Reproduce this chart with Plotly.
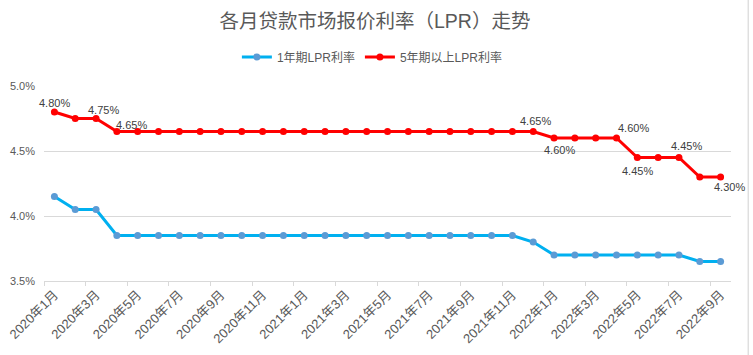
import plotly.graph_objects as go

months = [
    "2020年1月", "2020年2月", "2020年3月", "2020年4月", "2020年5月", "2020年6月",
    "2020年7月", "2020年8月", "2020年9月", "2020年10月", "2020年11月", "2020年12月",
    "2021年1月", "2021年2月", "2021年3月", "2021年4月", "2021年5月", "2021年6月",
    "2021年7月", "2021年8月", "2021年9月", "2021年10月", "2021年11月", "2021年12月",
    "2022年1月", "2022年2月", "2022年3月", "2022年4月", "2022年5月", "2022年6月",
    "2022年7月", "2022年8月", "2022年9月",
]
lpr_1y = [
    4.15, 4.05, 4.05, 3.85, 3.85, 3.85, 3.85, 3.85, 3.85, 3.85, 3.85, 3.85,
    3.85, 3.85, 3.85, 3.85, 3.85, 3.85, 3.85, 3.85, 3.85, 3.85, 3.85, 3.80,
    3.70, 3.70, 3.70, 3.70, 3.70, 3.70, 3.70, 3.65, 3.65,
]
lpr_5y = [
    4.80, 4.75, 4.75, 4.65, 4.65, 4.65, 4.65, 4.65, 4.65, 4.65, 4.65, 4.65,
    4.65, 4.65, 4.65, 4.65, 4.65, 4.65, 4.65, 4.65, 4.65, 4.65, 4.65, 4.65,
    4.60, 4.60, 4.60, 4.60, 4.45, 4.45, 4.45, 4.30, 4.30,
]
labelled_points = [0, 2, 3, 23, 24, 27, 28, 30, 32]
y_ticks = [3.5, 4.0, 4.5, 5.0]
y_tick_labels = ["3.5%", "4.0%", "4.5%", "5.0%"]

# label offsets (style): (xshift, yshift) in px
label_shifts = [(0, 9), (7, 9), (15, 7), (2, 11), (5, -12), (17, 10), (0, -13), (8, 12), (9, -10)]

FONT = "Liberation Sans, Arial, Noto Sans CJK SC, sans-serif"
x = list(range(len(months)))

fig = go.Figure()
fig.add_trace(go.Scatter(
    x=x, y=lpr_1y, name="1年期LPR利率", mode="lines+markers",
    line=dict(color="#00B0F0", width=3),
    marker=dict(color="#5B9BD5", size=7),
))
fig.add_trace(go.Scatter(
    x=x, y=lpr_5y, name="5年期以上LPR利率", mode="lines+markers",
    line=dict(color="#FF0000", width=3),
    marker=dict(color="#FF0000", size=7),
))
# invisible trace on overlay axis for tick marks between categories
fig.add_trace(go.Scatter(x=[x[0]], y=[lpr_1y[0]], xaxis="x2", showlegend=False,
                         mode="markers", marker=dict(opacity=0), hoverinfo="skip"))

annotations = []
for i, (dx, dy) in zip(labelled_points, label_shifts):
    annotations.append(dict(
        x=i, y=lpr_5y[i], xref="x", yref="y", text=f"{lpr_5y[i]:.2f}%",
        showarrow=False, xshift=dx, yshift=dy,
        font=dict(size=11, color="#404040", family=FONT),
    ))

xr = [-0.5, len(months) - 0.5]
fig.update_layout(
    width=753, height=355,
    margin=dict(l=44, r=22, t=86, b=74, autoexpand=False),
    paper_bgcolor="white", plot_bgcolor="white",
    font=dict(family=FONT, color="#595959"),
    title=dict(text="各月贷款市场报价利率（LPR）走势", x=0.498, xref="container",
               y=1 - 21 / 355, yref="container", xanchor="center", yanchor="middle",
               font=dict(size=19.5, color="#595959", family=FONT)),
    legend=dict(orientation="h", x=0.478, xanchor="center", y=1.149, yanchor="middle",
                font=dict(size=12, color="#595959", family=FONT),
                itemwidth=30, bgcolor="rgba(0,0,0,0)"),
    xaxis=dict(range=xr, tickmode="array", tickvals=x[::2], ticktext=months[::2],
               tickangle=-45, tickfont=dict(size=13, color="#595959"),
               showgrid=False, showline=True, linecolor="#D9D9D9", linewidth=1,
               ticks="", zeroline=False),
    xaxis2=dict(range=xr, overlaying="x", side="bottom", tickmode="array",
                tickvals=[v - 0.5 for v in x[::2]][:17], showticklabels=False,
                ticks="outside", ticklen=4, tickcolor="#D9D9D9", showgrid=False,
                showline=False, zeroline=False),
    yaxis=dict(range=[3.5, 5.0], tickmode="array", tickvals=y_ticks, ticktext=y_tick_labels,
               tickfont=dict(size=11, color="#595959"), gridcolor="#D9D9D9",
               showline=False, zeroline=False, ticklabelstandoff=8),
    annotations=annotations,
    shapes=[dict(type="line", xref="paper", yref="paper", x0=1.025, x1=1.025,
                 y0=-0.4, y1=1.45, line=dict(color="#D0D0D0", width=1))],
)

fig.write_html("out.html", config={"displayModeBar": False},
               post_script="document.body.style.margin='0';document.body.style.overflow='hidden';")
